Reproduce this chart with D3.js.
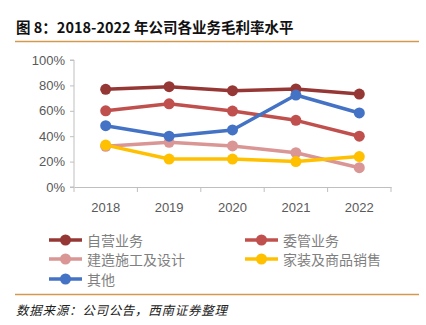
<!DOCTYPE html>
<html>
<head>
<meta charset="utf-8">
<title>毛利率</title>
<script src="https://d3js.org/d3.v7.min.js"></script>
<style>
  body { margin: 0; background: #fff; }
  svg { display: block; }
  text { font-family: "Noto Sans CJK SC", "Liberation Sans", sans-serif; }
  .tick text { font-family: "Liberation Sans", "Noto Sans CJK SC", sans-serif; font-size: 13px; fill: #595959; }
</style>
</head>
<body>
<svg id="main" width="426" height="325"></svg>
<script>
const years = ['2018', '2019', '2020', '2021', '2022'];
const yTicks = [0, 20, 40, 60, 80, 100];

const names = ['自营业务', '委管业务', '建造施工及设计', '家装及商品销售', '其他'];
const colors = ['#953735', '#C0504D', '#D99694', '#FFC000', '#4472C4'];

const ziying = [76.9, 79.0, 75.8, 77.2, 73.2];
const weiguan = [60.0, 65.5, 59.8, 52.5, 40.0];
const jianzao = [32.0, 35.2, 32.3, 27.0, 15.2];
const jiazhuang = [33.0, 22.0, 22.0, 20.0, 24.0];
const qita = [48.3, 40.0, 44.9, 72.4, 58.3];

const series = [ziying, weiguan, jianzao, jiazhuang, qita];
// drawing order: bottom to top
const drawOrder = [2, 3, 1, 0, 4];

const svg = d3.select('#main');

// title
svg.append('text')
  .attr('x', 16).attr('y', 33)
  .attr('font-size', 14.5).attr('font-weight', 'bold').attr('fill', '#111')
  .text('图 8：2018-2022 年公司各业务毛利率水平');
svg.append('line')
  .attr('x1', 15).attr('x2', 419).attr('y1', 41.5).attr('y2', 41.5)
  .attr('stroke', '#D49A4C').attr('stroke-width', 1.5);

const x = d3.scaleBand().domain(years).range([74, 391]);
const y = d3.scaleLinear().domain([0, 100]).range([187, 60]);

// y axis
const yAxis = svg.append('g')
  .attr('transform', 'translate(74,0)')
  .call(d3.axisLeft(y).tickValues(yTicks).tickSize(4).tickPadding(5).tickFormat(d => d + '%'));
yAxis.select('.domain').attr('stroke', '#BFBFBF').attr('d', 'M-4,60H0V187H-4');
yAxis.selectAll('.tick line').attr('stroke', '#BFBFBF');

// x axis
const xAxis = svg.append('g')
  .attr('transform', 'translate(0,187)')
  .call(d3.axisBottom(x).tickSize(0).tickPadding(16));
xAxis.select('.domain').attr('stroke', '#BFBFBF');
xAxis.selectAll('.sep')
  .data(d3.range(years.length + 1))
  .enter().append('line')
  .attr('x1', i => x.range()[0] + i * x.step())
  .attr('x2', i => x.range()[0] + i * x.step())
  .attr('y1', 0).attr('y2', 5)
  .attr('stroke', '#BFBFBF');

const line = d3.line()
  .x((d, i) => x(years[i]) + x.bandwidth() / 2)
  .y(d => y(d));

const plot = svg.append('g');
drawOrder.forEach(k => {
  const g = plot.append('g');
  g.append('path')
    .datum(series[k])
    .attr('d', line)
    .attr('fill', 'none')
    .attr('stroke', colors[k])
    .attr('stroke-width', 3.5)
    .attr('stroke-linejoin', 'round');
  g.selectAll('circle')
    .data(series[k])
    .enter().append('circle')
    .attr('cx', (d, i) => x(years[i]) + x.bandwidth() / 2)
    .attr('cy', d => y(d))
    .attr('r', 5.5)
    .attr('fill', colors[k]);
});

// legend
const legendPos = [
  [49, 240], [245, 240],
  [49, 259], [245, 259],
  [49, 279]
];
names.forEach((n, k) => {
  const [lx, ly] = legendPos[k];
  const g = svg.append('g').attr('transform', `translate(${lx},${ly})`);
  g.append('line').attr('x1', 0).attr('x2', 33).attr('y1', 0).attr('y2', 0)
    .attr('stroke', colors[k]).attr('stroke-width', 3.5);
  g.append('circle').attr('cx', 16.5).attr('cy', 0).attr('r', 5.5).attr('fill', colors[k]);
  g.append('text').attr('x', 38).attr('y', 5.5)
    .attr('font-size', 14).attr('fill', '#7F7F7F').text(n);
});

svg.append('line')
  .attr('x1', 15).attr('x2', 419).attr('y1', 294.5).attr('y2', 294.5)
  .attr('stroke', '#D49A4C').attr('stroke-width', 1.5);

svg.append('text')
  .attr('x', 16).attr('y', 315)
  .attr('font-size', 12.5).attr('font-style', 'italic').attr('fill', '#222')
  .attr('textLength', 211)
  .text('数据来源：公司公告，西南证券整理');
</script>
</body>
</html>
